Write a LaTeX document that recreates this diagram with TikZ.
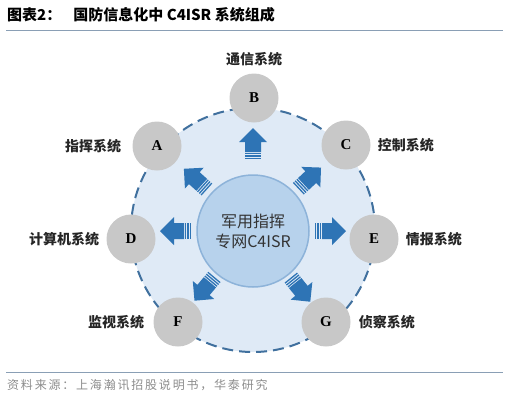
\documentclass[tikz,border=0pt]{standalone}
\usepackage{fontspec}
\usepackage{tikz}
\usetikzlibrary{positioning}
\newfontfamily\cjk{Noto Sans CJK SC}
\newfontfamily\lettr{Liberation Serif}
\definecolor{ringfill}{HTML}{DFEAF6}
\definecolor{ringline}{HTML}{40709E}
\definecolor{hubfill}{HTML}{B7D2EC}
\definecolor{hubline}{HTML}{8DB3D9}
\definecolor{nodegray}{HTML}{C8C8C8}
\definecolor{arrowblue}{HTML}{2E74B5}
\definecolor{rulecol}{HTML}{8A9FB5}
\definecolor{srcgray}{HTML}{8C8C8C}

\begin{document}
\begin{tikzpicture}[x=1pt, y=-1pt,
  sys/.style={circle, fill=nodegray, minimum size=49pt, inner sep=0pt,
    font=\lettr\bfseries\fontsize{15}{15}\selectfont},
  syslabel/.style={font=\cjk\bfseries\fontsize{14}{16}\selectfont, text=black!85, inner sep=0pt}]
  \useasboundingbox (0,0) rectangle (514,405);

  % title and rules
  \node[anchor=west, inner sep=0pt, font=\cjk\bfseries\fontsize{15}{16}\selectfont] (title) at (7,15)
    {图表2：\hspace{12pt}国防信息化中 C4ISR 系统组成};
  \draw[rulecol, line width=1pt] (6,30) -- (503,30);
  \draw[rulecol, line width=1pt] (6,372) -- (503,372);
  \node[anchor=west, inner sep=0pt, text=srcgray,
    font=\cjk\addfontfeature{LetterSpace=15}\fontsize{12}{13}\selectfont] (src) at (7,385)
    {资料来源：上海瀚讯招股说明书，华泰研究};

  % ring and hub
  \node[circle, fill=ringfill, draw=ringline, line width=2pt, dash pattern=on 11pt off 6pt,
    minimum size=244pt] (ring) at (253,230) {};
  \node[circle, fill=hubfill, draw=hubline, line width=1.5pt, minimum size=112pt,
    align=center, text=black!80, font=\cjk\fontsize{16}{20}\selectfont] (hub) at (253,231)
    {军用指挥\\专网C4ISR};

  % block arrows
  \foreach \ang/\r in {90/72, 43/62, 0/62, 309/60, 230/60, 180/62, 138/62} {
    \begin{scope}[shift={(hub.center)}, rotate=\ang]
      \foreach \s in {0,2.4,4.8}
        \fill[arrowblue] (\r+\s,-8) rectangle (\r+\s+1.3,8);
      \fill[arrowblue] (\r+7,-8) -- (\r+17,-8) -- (\r+17,-14) -- (\r+31,0)
        -- (\r+17,14) -- (\r+17,8) -- (\r+7,8) -- cycle;
    \end{scope}
  }

  % subsystems
  \node[sys] (b) at (254,98) {B};
  \node[sys] (a) at (157,146) {A};
  \node[sys] (c) at (346,145) {C};
  \node[sys] (d) at (131,239) {D};
  \node[sys] (e) at (374,239) {E};
  \node[sys] (f) at (178,322) {F};
  \node[sys] (g) at (326,322) {G};

  \node[syslabel, above=7pt of b] (lb) {通信系统};
  \node[syslabel, left=11pt of a] (la) {指挥系统};
  \node[syslabel, right=7pt of c] (lc) {控制系统};
  \node[syslabel, left=7pt of d] (ld) {计算机系统};
  \node[syslabel, right=7pt of e] (le) {情报系统};
  \node[syslabel, left=9pt of f] (lf) {监视系统};
  \node[syslabel, right=8pt of g] (lg) {侦察系统};
\end{tikzpicture}
\end{document}
